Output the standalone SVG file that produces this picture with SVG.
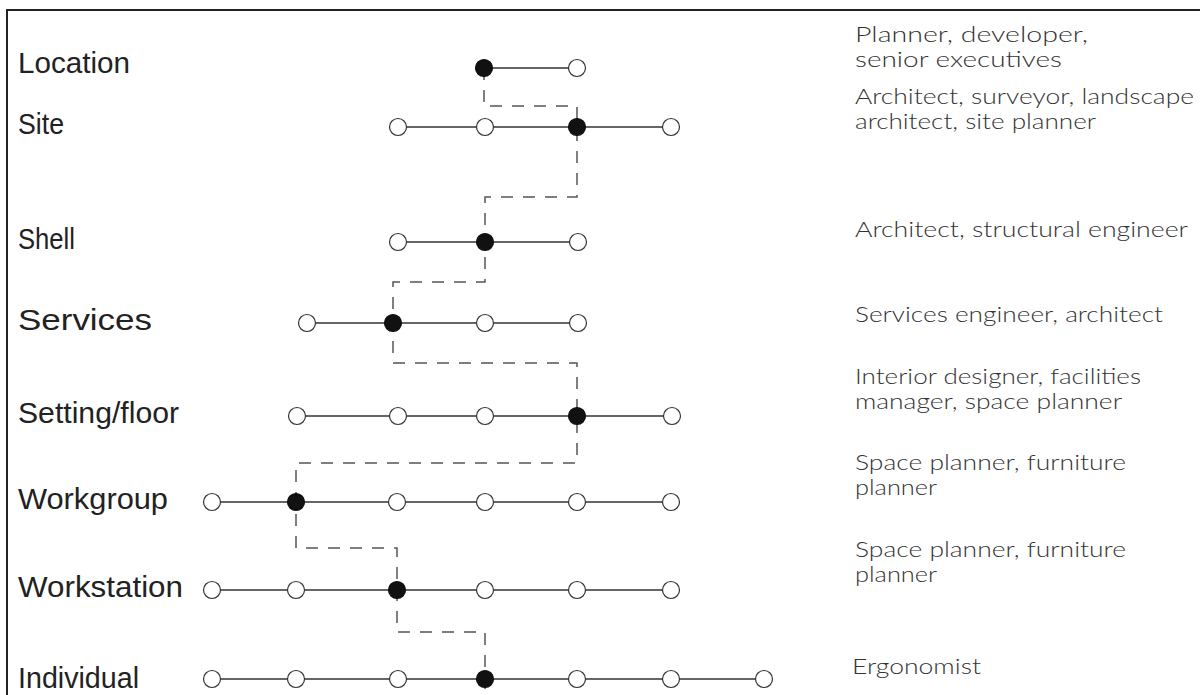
<svg xmlns="http://www.w3.org/2000/svg" width="1200" height="695" viewBox="0 0 1200 695">
  <style>
    .frame { fill: none; stroke: #222; stroke-width: 2; }
    .rule { stroke: #333; stroke-width: 1.3; }
    .open { fill: #fff; stroke: #333; stroke-width: 1.2; }
    .fill { fill: #111; stroke: #111; stroke-width: 1.2; }
    .link { fill: none; stroke: #555; stroke-width: 1.5; stroke-dasharray: 12 10; }
    .label { font-family: "Liberation Sans", Arial, sans-serif; font-size: 29px; fill: #222; }
    .role { font-family: Lato, "Open Sans", sans-serif; font-weight: 300; font-size: 22px; fill: #333; }
  </style>
  <defs>
    <circle id="o" r="8.5" class="open"/>
    <circle id="f" r="8.5" class="fill"/>
  </defs>

  <rect width="1200" height="695" fill="#fff"/>
  <!-- frame: top and left edges -->
  <path class="frame" d="M7,695 V10 H1200"/>

  <!-- dashed path through the chosen point on each level -->
  <g id="connectors">
    <path class="link" d="M484,68 V106 H577 V127 V197 H485 V242 V282 H393 V323 V363 H577 V416 V463 H296 V502 V548 H397 V590 V632 H485 V690"/>
  </g>

  <g id="location">
    <text class="label" x="18" y="73" textLength="112" lengthAdjust="spacingAndGlyphs">Location</text>
    <line class="rule" x1="484" y1="68" x2="577" y2="68"/>
    <use href="#f" x="484" y="68"/><use href="#o" x="577" y="68"/>
  </g>
  <g id="site">
    <text class="label" x="18" y="134" textLength="46" lengthAdjust="spacingAndGlyphs">Site</text>
    <line class="rule" x1="398" y1="127" x2="671" y2="127"/>
    <use href="#o" x="398" y="127"/><use href="#o" x="485" y="127"/><use href="#f" x="577" y="127"/><use href="#o" x="671" y="127"/>
  </g>
  <g id="shell">
    <text class="label" x="18" y="249" textLength="57" lengthAdjust="spacingAndGlyphs">Shell</text>
    <line class="rule" x1="398" y1="242" x2="578" y2="242"/>
    <use href="#o" x="398" y="242"/><use href="#f" x="485" y="242"/><use href="#o" x="578" y="242"/>
  </g>
  <g id="services">
    <text class="label" x="18" y="330" textLength="134" lengthAdjust="spacingAndGlyphs">Services</text>
    <line class="rule" x1="307" y1="323" x2="578" y2="323"/>
    <use href="#o" x="307" y="323"/><use href="#f" x="393" y="323"/><use href="#o" x="485" y="323"/><use href="#o" x="578" y="323"/>
  </g>
  <g id="setting-floor">
    <text class="label" x="18" y="423" textLength="161" lengthAdjust="spacingAndGlyphs">Setting/floor</text>
    <line class="rule" x1="297" y1="416" x2="672" y2="416"/>
    <use href="#o" x="297" y="416"/><use href="#o" x="398" y="416"/><use href="#o" x="485" y="416"/><use href="#f" x="577" y="416"/><use href="#o" x="672" y="416"/>
  </g>
  <g id="workgroup">
    <text class="label" x="18" y="509" textLength="150" lengthAdjust="spacingAndGlyphs">Workgroup</text>
    <line class="rule" x1="212" y1="502" x2="671" y2="502"/>
    <use href="#o" x="212" y="502"/><use href="#f" x="296" y="502"/><use href="#o" x="397" y="502"/><use href="#o" x="485" y="502"/><use href="#o" x="577" y="502"/><use href="#o" x="671" y="502"/>
  </g>
  <g id="workstation">
    <text class="label" x="18" y="597" textLength="165" lengthAdjust="spacingAndGlyphs">Workstation</text>
    <line class="rule" x1="212" y1="590" x2="671" y2="590"/>
    <use href="#o" x="212" y="590"/><use href="#o" x="296" y="590"/><use href="#f" x="397" y="590"/><use href="#o" x="485" y="590"/><use href="#o" x="577" y="590"/><use href="#o" x="671" y="590"/>
  </g>
  <g id="individual">
    <text class="label" x="18" y="688" textLength="121" lengthAdjust="spacingAndGlyphs">Individual</text>
    <line class="rule" x1="212" y1="679" x2="764" y2="679"/>
    <use href="#o" x="212" y="679"/><use href="#o" x="296" y="679"/><use href="#o" x="398" y="679"/><use href="#f" x="485" y="679"/><use href="#o" x="577" y="679"/><use href="#o" x="671" y="679"/><use href="#o" x="764" y="679"/>
  </g>

  <!-- roles responsible at each level -->
  <g id="roles">
    <text class="role" x="855" y="42" textLength="233" lengthAdjust="spacingAndGlyphs">Planner, developer,</text>
    <text class="role" x="855" y="67" textLength="207" lengthAdjust="spacingAndGlyphs">senior executives</text>
    <text class="role" x="855" y="104" textLength="339" lengthAdjust="spacingAndGlyphs">Architect, surveyor, landscape</text>
    <text class="role" x="855" y="129" textLength="241" lengthAdjust="spacingAndGlyphs">architect, site planner</text>
    <text class="role" x="855" y="237" textLength="333" lengthAdjust="spacingAndGlyphs">Architect, structural engineer</text>
    <text class="role" x="855" y="322" textLength="308" lengthAdjust="spacingAndGlyphs">Services engineer, architect</text>
    <text class="role" x="855" y="384" textLength="286" lengthAdjust="spacingAndGlyphs">Interior designer, facilities</text>
    <text class="role" x="855" y="409" textLength="267" lengthAdjust="spacingAndGlyphs">manager, space planner</text>
    <text class="role" x="855" y="470" textLength="271" lengthAdjust="spacingAndGlyphs">Space planner, furniture</text>
    <text class="role" x="855" y="495" textLength="82" lengthAdjust="spacingAndGlyphs">planner</text>
    <text class="role" x="855" y="557" textLength="271" lengthAdjust="spacingAndGlyphs">Space planner, furniture</text>
    <text class="role" x="855" y="582" textLength="82" lengthAdjust="spacingAndGlyphs">planner</text>
    <text class="role" x="852" y="674" textLength="129" lengthAdjust="spacingAndGlyphs">Ergonomist</text>
  </g>
</svg>
